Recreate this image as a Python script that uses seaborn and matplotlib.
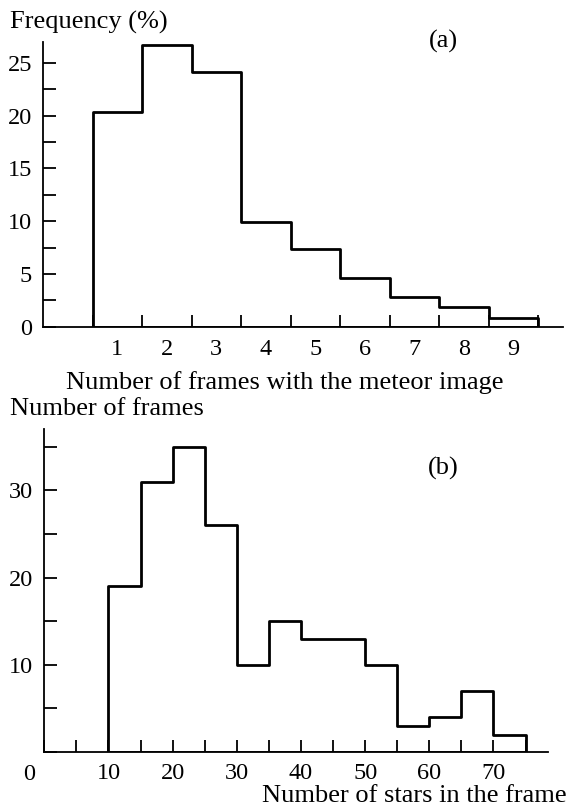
import numpy as np
import pandas as pd
import matplotlib
matplotlib.use("Agg")
import matplotlib.pyplot as plt
import seaborn as sns

# ---- data ----
frames_n = [1, 2, 3, 4, 5, 6, 7, 8, 9]
frames_pct = [20.4, 26.7, 24.2, 9.9, 7.4, 4.6, 2.8, 1.9, 0.8]

stars_left = [10, 15, 20, 25, 30, 35, 40, 45, 50, 55, 60, 65, 70]
stars_count = [19, 31, 35, 26, 10, 15, 13, 13, 10, 3, 4, 7, 2]

sns.set_theme(style="ticks")
plt.rcParams['font.family'] = ['Liberation Serif', 'DejaVu Serif']
plt.rcParams['text.color'] = 'black'
plt.rcParams['axes.labelcolor'] = 'black'
plt.rcParams['xtick.color'] = 'black'
plt.rcParams['ytick.color'] = 'black'
plt.rcParams['axes.edgecolor'] = 'black'

FS_T = 17.5   # tick labels
FS_L = 19     # axis labels / panel tags
W, H = 570, 806
fig = plt.figure(figsize=(W / 100, H / 100), dpi=100)


def ax_rect(l, t, r, b):
    return [l / W, 1 - b / H, (r - l) / W, (b - t) / H]


def style_axes(ax):
    ax.set_xlabel("")
    ax.set_ylabel("")
    for s in ["top", "right"]:
        ax.spines[s].set_visible(False)
    for s in ["left", "bottom"]:
        ax.spines[s].set_linewidth(1.3)
        ax.spines[s].set_color("black")
    for c in ax.collections:
        c.set_facecolor("none")
        c.set_edgecolor("black")
        c.set_linewidth(2.0)


# ---------- panel (a) ----------
axa = fig.add_axes(ax_rect(43, 42, 563, 326.6))
dfa = pd.DataFrame({"n": frames_n, "pct": frames_pct})
edges_a = [v - 0.5 for v in frames_n] + [frames_n[-1] + 0.5]
sns.histplot(data=dfa, x="n", weights="pct", bins=edges_a, element="step",
             fill=True, color="black", ax=axa)
axa.set_xlim(-0.5, 10.0)
axa.set_ylim(0, 27)
axa.set_xticks(edges_a)
axa.set_xticklabels([])
axa.set_xticks(frames_n, minor=True)
axa.set_xticklabels([str(v) for v in frames_n], minor=True)
axa.set_yticks([0, 5, 10, 15, 20, 25])
axa.set_yticks(np.arange(2.5, 27, 5), minor=True)
axa.tick_params(axis="x", which="major", direction="in", length=9, width=1.3)
axa.tick_params(axis="x", which="minor", direction="in", length=0, pad=9,
                labelsize=FS_T)
axa.tick_params(axis="y", which="both", direction="in", length=9, width=1.3,
                labelsize=FS_T, pad=8)
style_axes(axa)

fig.text(10 / W, 1 - 29 / H, "Frequency (%)", fontsize=FS_L, ha="left",
         va="baseline")
fig.text(443 / W, 1 - 41 / H, "(a)", fontsize=FS_L, ha="center", va="center")
fig.text(285 / W, 1 - 388.6 / H, "Number of frames with the meteor image",
         fontsize=FS_L, ha="center", va="baseline")

# ---------- panel (b) ----------
axb = fig.add_axes(ax_rect(44.3, 429.3, 548, 752))
dfb = pd.DataFrame({"stars": [v + 2.5 for v in stars_left], "cnt": stars_count})
edges_b = stars_left + [stars_left[-1] + 5]
sns.histplot(data=dfb, x="stars", weights="cnt", bins=edges_b, element="step",
             fill=True, color="black", ax=axb)
axb.set_xlim(0, 78.5)
axb.set_ylim(0, 37)
axb.set_xticks(np.arange(0, 71, 10))
axb.set_xticklabels([""] + [str(v) for v in range(10, 71, 10)])
axb.set_xticks(np.arange(5, 76, 10), minor=True)
axb.set_yticks([10, 20, 30])
axb.set_yticks([0, 5, 15, 25, 35], minor=True)
axb.tick_params(axis="x", which="both", direction="in", length=9, width=1.3,
                labelsize=FS_T, pad=8)
axb.tick_params(axis="y", which="both", direction="in", length=9, width=1.3,
                labelsize=FS_T, pad=8)
style_axes(axb)

fig.text(29 / W, 1 - 780 / H, "0", fontsize=FS_T, ha="center", va="baseline")
fig.text(10 / W, 1 - 415 / H, "Number of frames", fontsize=FS_L, ha="left",
         va="baseline")
fig.text(443 / W, 1 - 468 / H, "(b)", fontsize=FS_L, ha="center", va="center")
fig.text(567 / W, 1 - 802 / H, "Number of stars in the frame", fontsize=FS_L,
         ha="right", va="baseline")

fig.savefig("out.png", dpi=100)
